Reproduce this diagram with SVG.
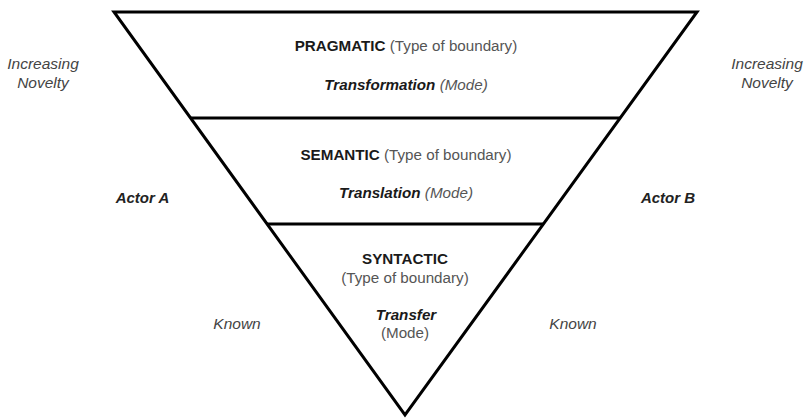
<svg xmlns="http://www.w3.org/2000/svg" width="806" height="420" viewBox="0 0 806 420">
<style>
text{font-family:"Liberation Sans",Arial,sans-serif;font-size:15.2px;text-anchor:middle;fill:#1a1a1a}
.b{font-weight:bold}
.i{font-style:italic}
.g{fill:#555}
.side{fill:#444;font-style:italic;font-size:15.5px}
.actor{font-weight:bold;font-style:italic;font-size:15px;fill:#222}
.edge{stroke:#000;stroke-width:3;fill:none;stroke-linejoin:miter}
</style>
<rect width="806" height="420" fill="#fff"/>
<g id="connectors">
<polygon class="edge" points="114,12 697,12 405,415"/>
<line class="edge" x1="190.5" y1="118" x2="620" y2="118"/>
<line class="edge" x1="267" y1="224" x2="543.5" y2="224"/>
</g>
<g id="pragmatic">
<text x="406" y="51"><tspan class="b">PRAGMATIC</tspan> <tspan class="g">(Type of boundary)</tspan></text>
<text x="406" y="90"><tspan class="b i">Transformation</tspan> <tspan class="g i">(Mode)</tspan></text>
</g>
<g id="semantic">
<text x="406" y="160"><tspan class="b">SEMANTIC</tspan> <tspan class="g">(Type of boundary)</tspan></text>
<text x="406" y="198"><tspan class="b i">Translation</tspan> <tspan class="g i">(Mode)</tspan></text>
</g>
<g id="syntactic">
<text x="405" y="264" class="b">SYNTACTIC</text>
<text x="405" y="283" class="g">(Type of boundary)</text>
<text x="406" y="320" class="b i">Transfer</text>
<text x="405" y="338" class="g">(Mode)</text>
</g>
<g id="left-labels">
<text x="43" y="69" class="side">Increasing</text>
<text x="43" y="88" class="side">Novelty</text>
<text x="142.5" y="203" class="actor">Actor A</text>
<text x="237" y="329" class="side">Known</text>
</g>
<g id="right-labels">
<text x="767" y="69" class="side">Increasing</text>
<text x="767" y="88" class="side">Novelty</text>
<text x="668" y="203" class="actor">Actor B</text>
<text x="573" y="329" class="side">Known</text>
</g>
</svg>
